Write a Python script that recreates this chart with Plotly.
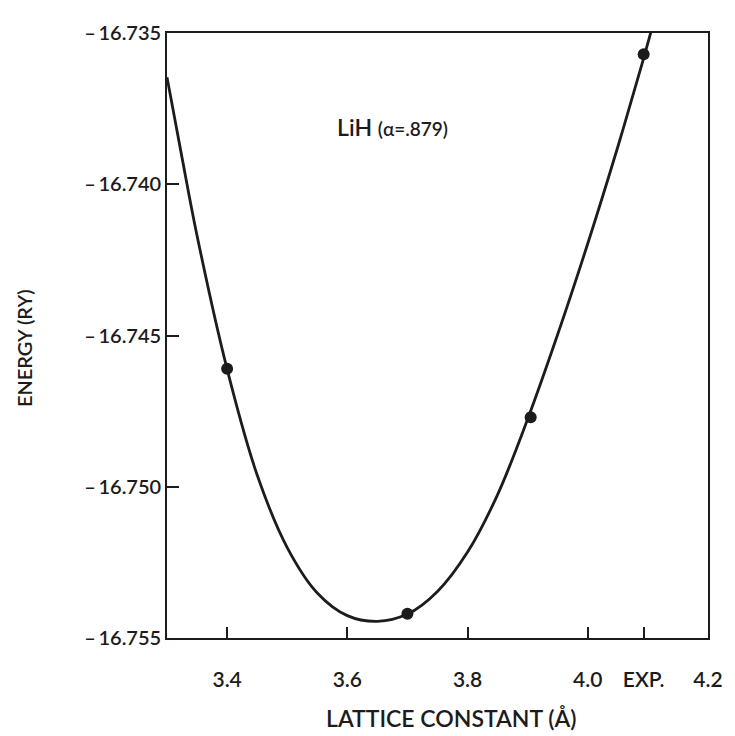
import plotly.graph_objects as go

# Computed points (lattice constant in Å, energy in Ry)
point_x = [3.40, 3.70, 3.905, 4.093]
point_y = [-16.7461, -16.7542, -16.7477, -16.7357]

# Hand-drawn smooth curve
curve_x = [3.30, 3.325, 3.35, 3.40, 3.45, 3.50, 3.55, 3.60, 3.65, 3.70,
           3.75, 3.80, 3.85, 3.90, 3.95, 4.00, 4.05, 4.09, 4.11]
curve_y = [-16.73646, -16.73912, -16.74170, -16.74611, -16.74961, -16.75201,
           -16.75351, -16.75426, -16.75445, -16.75421, -16.75346, -16.75216,
           -16.75026, -16.74776, -16.74496, -16.74196, -16.73876, -16.73604,
           -16.73460]

x_tickvals = [3.4, 3.6, 3.8, 4.0, 4.093, 4.2]
x_ticktext = ["3.4", "3.6", "3.8", "4.0", "EXP.", "4.2"]
y_tickvals = [-16.735, -16.740, -16.745, -16.750, -16.755]
y_ticktext = ["\u2013\u200916.735", "\u2013\u200916.740", "\u2013\u200916.745",
              "\u2013\u200916.750", "\u2013\u200916.755"]

FONT = "Lato, 'Open Sans', sans-serif"
INK = "#1c1c1c"

fig = go.Figure()
fig.add_trace(go.Scatter(x=curve_x, y=curve_y, mode="lines",
                         line=dict(color=INK, width=2.8, shape="spline", smoothing=1.0),
                         hoverinfo="skip", showlegend=False))
fig.add_trace(go.Scatter(x=point_x, y=point_y, mode="markers",
                         marker=dict(color=INK, size=12, line=dict(width=0)),
                         showlegend=False, cliponaxis=False))

fig.update_layout(
    width=735, height=736,
    margin=dict(l=167, r=19, t=33, b=98),
    paper_bgcolor="white", plot_bgcolor="white",
    font=dict(family=FONT, color=INK),
    showlegend=False,
)
fig.update_xaxes(range=[3.3, 4.2], showgrid=False, zeroline=False,
                 showline=True, linecolor=INK, linewidth=1.6, mirror=True,
                 ticks="inside", ticklen=11, tickwidth=1.6, tickcolor=INK,
                 tickvals=x_tickvals, ticktext=x_ticktext,
                 tickfont=dict(size=21, family=FONT, color=INK, weight=600),
                 ticklabelstandoff=22)
fig.update_yaxes(range=[-16.755, -16.735], showgrid=False, zeroline=False,
                 showline=True, linecolor=INK, linewidth=1.6, mirror=True,
                 ticks="inside", ticklen=12, tickwidth=1.6, tickcolor=INK,
                 tickvals=y_tickvals, ticktext=y_ticktext,
                 tickfont=dict(size=20, family=FONT, color=INK, weight=600))

fig.add_annotation(xref="paper", yref="paper", x=(456 - 167) / 549, y=(638 - 718) / 605,
                   text="LATTICE CONSTANT (Å)", showarrow=False,
                   font=dict(size=23, family=FONT, color=INK, weight=600),
                   xanchor="center", yanchor="middle")
fig.add_annotation(xref="paper", yref="paper", x=(22 - 167) / 549, y=(638 - 348) / 605,
                   text="ENERGY (RY)", textangle=-90, showarrow=False,
                   font=dict(size=20, family=FONT, color=INK, weight=600),
                   xanchor="center", yanchor="middle")
fig.add_annotation(xref="paper", yref="paper", x=(396 - 167) / 549, y=(638 - 127) / 605,
                   text="LiH <span style='font-size:19px'>(α=.879)</span>", showarrow=False,
                   font=dict(size=23, family=FONT, color=INK, weight=600),
                   xanchor="center", yanchor="middle")

fig.write_html("out.html")
